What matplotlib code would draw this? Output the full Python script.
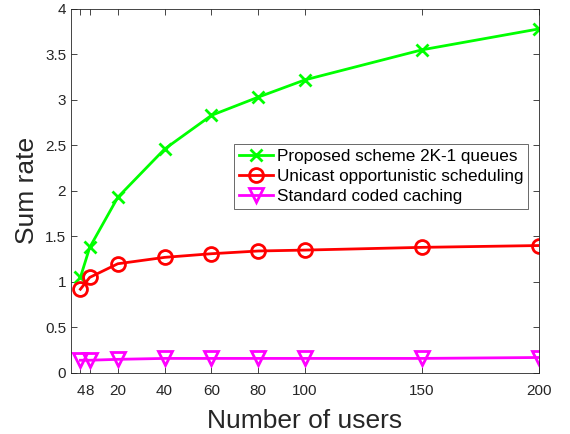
import matplotlib
matplotlib.use("Agg")
import matplotlib.pyplot as plt

plt.rcParams['font.family'] = ['Liberation Sans', 'DejaVu Sans']

users = [4, 8, 20, 40, 60, 80, 100, 150, 200]
proposed = [1.05, 1.38, 1.93, 2.46, 2.83, 3.03, 3.22, 3.55, 3.78]
unicast = [0.92, 1.05, 1.20, 1.27, 1.31, 1.34, 1.35, 1.38, 1.40]
standard = [0.14, 0.14, 0.15, 0.16, 0.16, 0.16, 0.16, 0.16, 0.17]

fig = plt.figure(figsize=(5.7, 4.34), dpi=100)
ax = fig.add_axes([0.1246, 0.1406, 0.821, 0.839])

ax.plot(users, proposed, color='#00ff00', marker='x', markersize=9, markeredgewidth=2,
        linewidth=2, label='Proposed scheme 2K-1 queues')
ax.plot(users, unicast, color='#ff0000', marker='o', markersize=10, markeredgewidth=2,
        markerfacecolor='none', linewidth=2, label='Unicast opportunistic scheduling')
ax.plot(users, standard, color='#ff00ff', marker='v', markersize=10, markeredgewidth=2,
        markerfacecolor='none', linewidth=2, label='Standard coded caching')

ax.set_xlim(0, 200)
ax.set_ylim(0, 4)
ax.set_xticks(users)
ax.set_xticklabels(['4', '8', '20', '40', '60', '80', '100', '150', '200'])
ax.set_yticks([0, 0.5, 1, 1.5, 2, 2.5, 3, 3.5, 4])
ax.set_yticklabels(['0', '0.5', '1', '1.5', '2', '2.5', '3', '3.5', '4'])
ax.tick_params(direction='in', top=True, right=True, labelsize=11,
               colors='#262626', length=4, width=0.6)
ax.tick_params(axis='x', pad=8)
for s in ax.spines.values():
    s.set_color('#262626')
    s.set_linewidth(0.6)

ax.set_xlabel('Number of users', fontsize=19, color='#262626', labelpad=8)
ax.set_ylabel('Sum rate', fontsize=19, color='#262626', labelpad=4)

leg = ax.legend(loc='upper left', bbox_to_anchor=(0.348, 0.629), fontsize=12.3,
                frameon=True, fancybox=False, edgecolor='#262626',
                handlelength=2.0, handletextpad=0.2, borderpad=0.3,
                labelspacing=0.3, borderaxespad=0)
leg.get_frame().set_linewidth(0.6)

fig.savefig('out.png', dpi=100)
